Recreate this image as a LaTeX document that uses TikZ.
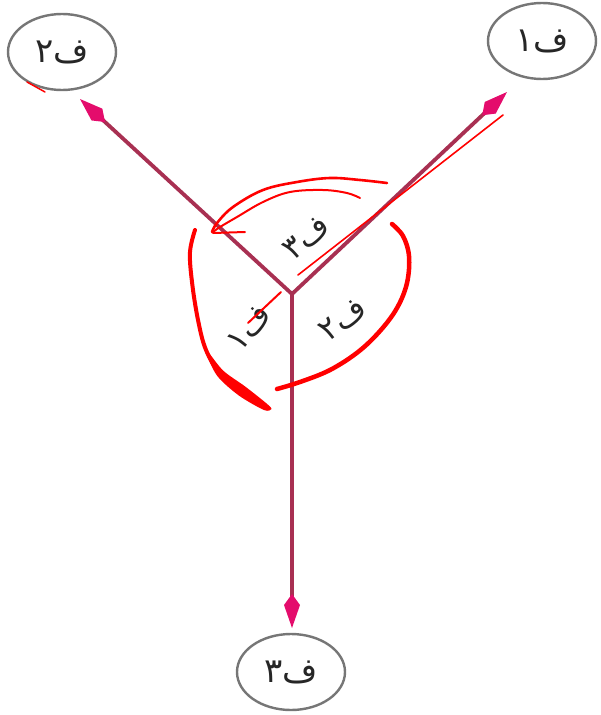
\documentclass[tikz,border=0pt]{standalone}
\usepackage{fontspec}
\newfontfamily\arabicfont[Script=Arabic]{DejaVu Sans}
\TeXXeTstate=1
\usetikzlibrary{shapes.geometric,arrows.meta}
\definecolor{vecline}{RGB}{168,48,82}
\definecolor{vechead}{RGB}{228,12,108}
\definecolor{ellgray}{RGB}{118,118,118}
\definecolor{pen}{RGB}{255,0,0}
\begin{document}
\begin{tikzpicture}[x=1pt,y=-1pt,
  body/.style={ellipse, draw=ellgray, line width=2.4pt, minimum width=108pt, minimum height=76pt, inner sep=0pt,
    font=\arabicfont\fontsize{34}{34}\selectfont, text=black!85},
  vec/.style={draw=vecline, line width=3.8pt, -{Kite[length=34pt,width=16pt,inset=11pt,color=vechead,fill=vechead]}},
  anglab/.style={font=\arabicfont\fontsize{32}{32}\selectfont, text=black!85, inner sep=0pt},
  ink/.style={draw=pen, line cap=round, line join=round}
]
\useasboundingbox (0,0) rectangle (600,715);
% bodies
\node[body] (e2) at (62,52) {\beginR ف۲\endR};
\node[body] (e1) at (542,41) {\beginR ف۱\endR};
\node[body] (e3) at (291,672) {\beginR ف۳\endR};
% vectors
\coordinate (c) at (292,294);
\coordinate (t2) at (80,99);
\coordinate (t1) at (507,92);
\coordinate (t3) at (292,628);
\draw[vec] (c) -- (t2);
\draw[vec] (c) -- (t1);
\draw[vec] (c) -- (t3);
% angle labels
\node[anglab, rotate=40] (a3) at (307,238) {\beginR ف۳\endR};
\node[anglab, rotate=37] (a2) at (343,320) {\beginR ف۲\endR};
\node[anglab, rotate=50] (a1) at (249,328) {\beginR ف۱\endR};
% red annotations
\draw[ink, line width=2.6pt] plot[smooth, tension=0.6] coordinates {(387,183) (360,180) (330,178) (297,182) (263,190) (233,207) (217,223) (212,232)};
\draw[ink, line width=2pt] plot[smooth, tension=0.6] coordinates {(360,198) (347,193) (323,190) (290,192) (263,202) (237,217) (220,227) (213,232)};
\draw[ink, line width=2pt] (213,233) -- (245,232);
\draw[ink, line width=4pt] plot[smooth, tension=0.6] coordinates {(195,230) (190,252) (192,282) (198,320) (206,350) (220,373) (242,391) (268,408)};
\fill[pen] plot[smooth cycle, tension=0.5] coordinates {(206,349) (223,370.4) (245.3,386.6) (266.6,403.5) (271.5,409) (264,410) (238.7,395.4) (217,375.6) (205,351)};
\draw[ink, line width=4.5pt] plot[smooth, tension=0.6] coordinates {(277,389) (300,382) (330,370) (358,352) (380,331) (397,308) (407,283) (409,256) (403,236) (392,224)};
\draw[ink, line width=1.6pt] (298,275) -- (503,115);
\draw[ink, line width=2pt] (248,323) -- (281,292);
\draw[ink, line width=1.5pt] (27,82) -- (45,92);
\end{tikzpicture}
\end{document}
